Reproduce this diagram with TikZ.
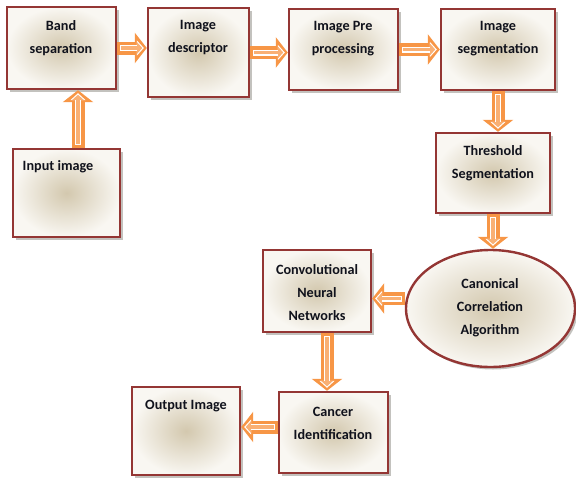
\documentclass[tikz,border=0pt]{standalone}
\usepackage{fontspec}
\setmainfont{Carlito}
\usetikzlibrary{shapes.geometric,arrows.meta,shadows,calc}
\definecolor{boxedge}{HTML}{943634}
\definecolor{flow}{HTML}{F79646}
\definecolor{boxin}{HTML}{D3C8AE}
\definecolor{boxout}{HTML}{F9F7F2}
\definecolor{ink}{HTML}{10121C}
\tikzset{
  block/.style={rectangle, draw=boxedge, line width=2.4pt, inner sep=0pt,
    shading=radial, inner color=boxin, outer color=boxout,
    drop shadow={shadow xshift=2.5pt, shadow yshift=-2.5pt, fill=black!60!boxin, opacity=0.35}},
  oval/.style={block, ellipse},
  caption/.style={font=\bfseries\fontsize{14.2}{23}\selectfont, text=ink, align=center, inner sep=0pt},
}
% thick orange connector with a light hollow arrow inside
\newcommand\fatarrow[2]{%
  \draw[flow, line width=13pt, -{Triangle[length=12pt,width=30pt]}] #1 -- #2;
  \draw[white, line width=6pt, shorten <=3pt, shorten >=3pt, -{Triangle[length=7pt,width=15pt]}] #1 -- #2;
  \draw[flow!75!white, line width=3.6pt, shorten <=4pt, shorten >=4.6pt, -{Triangle[length=5pt,width=11pt]}] #1 -- #2;
}
\begin{document}
\begin{tikzpicture}[x=1pt,y=-1pt]
\useasboundingbox (0,0) rectangle (576,477);

% boxes
\node[block, minimum width=109pt, minimum height=82pt] (band) at (61.5,48) {};
\node[block, minimum width=101pt, minimum height=89pt] (desc) at (198.5,52.5) {};
\node[block, minimum width=109pt, minimum height=81pt] (pre) at (343.5,49.5) {};
\node[block, minimum width=114pt, minimum height=81pt] (seg) at (498,49.5) {};
\node[block, minimum width=114pt, minimum height=80pt] (thr) at (493,173) {};
\node[block, minimum width=107pt, minimum height=88pt] (in) at (66.5,193) {};
\node[block, minimum width=108pt, minimum height=82pt] (cnn) at (317,291) {};
\node[oval, minimum width=169pt, minimum height=117pt] (ell) at (490.5,308.5) {};
\node[block, minimum width=108pt, minimum height=88pt] (out) at (186,431) {};
\node[block, minimum width=109pt, minimum height=81pt] (can) at (333.5,432.5) {};

% labels
\node[caption] (tband) at (61,38) {Band\\separation};
\node[caption] (tdesc) at (198,38) {Image\\descriptor};
\node[caption] (tpre) at (343,39) {Image Pre\\processing};
\node[caption] (tseg) at (498,39) {Image\\segmentation};
\node[caption] (tthr) at (493,163) {Threshold\\Segmentation};
\node[caption] (tin) at (58,167) {Input image};
\node[caption] (tcnn) at (317,293) {Convolutional\\Neural\\Networks};
\node[caption] (tell) at (490,308) {Canonical\\Correlation\\Algorithm};
\node[caption] (tout) at (186,406) {Output Image};
\node[caption] (tcan) at (333,423) {Cancer\\Identification};

% connectors
\fatarrow{([xshift=11.5pt]in.north)}{([xshift=11.5pt]in.north |- band.south)}
\fatarrow{(band.east)}{(band.east -| desc.west)}
\fatarrow{(desc.east)}{(desc.east -| pre.west)}
\fatarrow{(pre.east)}{(pre.east -| seg.west)}
\fatarrow{(seg.south)}{(seg.south |- thr.north)}
\fatarrow{(thr.south)}{(thr.south |- ell.north)}
\fatarrow{([yshift=10pt]ell.west)}{([yshift=10pt]ell.west -| cnn.east)}
\fatarrow{([xshift=10pt]cnn.south)}{([xshift=10pt]cnn.south |- can.north)}
\fatarrow{([yshift=5.5pt]can.west)}{([yshift=5.5pt]can.west -| out.east)}
\end{tikzpicture}
\end{document}
